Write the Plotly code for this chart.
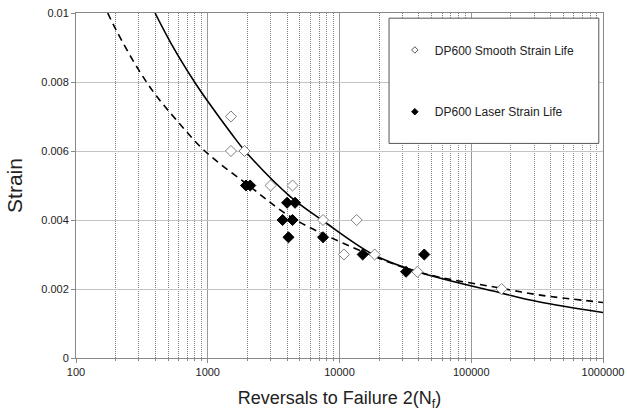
import plotly.graph_objects as go

# ---- data ----
smooth_N = [1500, 1500, 1900, 3000, 4400, 7500, 13500, 10800, 18500, 39000, 170000]
smooth_strain = [0.0070, 0.0060, 0.0060, 0.0050, 0.0050, 0.0040, 0.0040, 0.0030, 0.0030, 0.0025, 0.0020]

laser_N = [1950, 2100, 4000, 4600, 3700, 4400, 4100, 7500, 15000, 32000, 44000]
laser_strain = [0.0050, 0.0050, 0.0045, 0.0045, 0.0040, 0.0040, 0.0035, 0.0035, 0.0030, 0.0025, 0.0030]

solid_N = [398, 530, 794, 1000, 1514, 1919, 4227, 7361, 18030, 39000, 170000, 324000, 1000000]
solid_strain = [0.0100, 0.0091, 0.0080, 0.00744, 0.0065, 0.0060, 0.00468, 0.0040, 0.0030, 0.0025, 0.00188, 0.00163, 0.00132]

dashed_N = [174, 202, 299, 407, 578, 950, 2094, 4227, 10790, 39000, 170000, 324000, 1000000]
dashed_strain = [0.0100, 0.0095, 0.00835, 0.0076, 0.0069, 0.0060, 0.00497, 0.0041, 0.00332, 0.0025, 0.00202, 0.00183, 0.00161]

x_tickvals = [100, 1000, 10000, 100000, 1000000]
x_ticktext = ["100", "1000", "10000", "100000", "1000000"]
y_tickvals = [0, 0.002, 0.004, 0.006, 0.008, 0.01]
y_ticktext = ["0", "0.002", "0.004", "0.006", "0.008", "0.01"]

FONT = "Liberation Sans, Arial, sans-serif"

fig = go.Figure()

fig.add_trace(go.Scatter(x=solid_N, y=solid_strain, mode="lines",
                         line=dict(color="black", width=1.6, shape="spline", smoothing=1.0),
                         showlegend=False, hoverinfo="skip"))
fig.add_trace(go.Scatter(x=dashed_N, y=dashed_strain, mode="lines",
                         line=dict(color="black", width=1.6, dash="7px,5px", shape="spline", smoothing=1.0),
                         showlegend=False, hoverinfo="skip"))

fig.add_trace(go.Scatter(x=smooth_N, y=smooth_strain, mode="markers",
                         marker=dict(symbol="diamond", size=8.5, color="white",
                                     line=dict(color="#7f7f7f", width=1)),
                         showlegend=False))
fig.add_trace(go.Scatter(x=laser_N, y=laser_strain, mode="markers",
                         marker=dict(symbol="diamond", size=8.5, color="black",
                                     line=dict(color="black", width=1)),
                         showlegend=False))

# legend entries (small markers, as in the reference)
fig.add_trace(go.Scatter(x=[None], y=[None], mode="markers", name="DP600 Smooth Strain Life",
                         marker=dict(symbol="diamond", size=5, color="white",
                                     line=dict(color="#555555", width=1)),
                         legend="legend"))
fig.add_trace(go.Scatter(x=[None], y=[None], mode="markers", name="DP600 Laser Strain Life",
                         marker=dict(symbol="diamond", size=5, color="black",
                                     line=dict(color="black", width=1)),
                         legend="legend2"))

# legend frame
fig.add_shape(type="rect", xref="paper", yref="paper",
              x0=0.594, x1=0.992, y0=0.622, y1=0.985,
              fillcolor="white", line=dict(color="#555555", width=1), layer="above")

fig.update_layout(
    width=627, height=412,
    margin=dict(l=76, r=24, t=13, b=54),
    paper_bgcolor="white", plot_bgcolor="white",
    font=dict(family=FONT, color="#222222", size=11),
    legend=dict(x=0.605, y=0.8928, xanchor="left", yanchor="middle",
                bgcolor="rgba(0,0,0,0)", borderwidth=0,
                font=dict(family=FONT, size=12, color="#222222"),
                itemwidth=30),
    legend2=dict(x=0.605, y=0.7139, xanchor="left", yanchor="middle",
                 bgcolor="rgba(0,0,0,0)", borderwidth=0,
                 font=dict(family=FONT, size=12, color="#222222"),
                 itemwidth=30),
    showlegend=True,
)

fig.update_xaxes(
    type="log", range=[2, 6], automargin=False,
    tickvals=x_tickvals, ticktext=x_ticktext,
    showgrid=True, gridcolor="#9a9a9a", gridwidth=1,
    ticks="outside", ticklen=4, tickcolor="#888888",
    showline=True, linecolor="#888888", linewidth=1, mirror=True,
    minor=dict(dtick="D1", showgrid=True, gridcolor="#808080", griddash="1px,1px",
               gridwidth=1, ticks="outside", ticklen=2, tickcolor="#888888"),
    tickfont=dict(family=FONT, size=11, color="#222222"),
    title=dict(text="Reversals to Failure 2(N<sub>f</sub>)",
               font=dict(family=FONT, size=18, color="#222222"), standoff=14),
    zeroline=False,
)
fig.update_yaxes(
    range=[0, 0.01], automargin=False,
    tickvals=y_tickvals, ticktext=y_ticktext,
    showgrid=True, gridcolor="#c4c4c4", gridwidth=1,
    ticks="outside", ticklen=4, tickcolor="#888888",
    showline=True, linecolor="#888888", linewidth=1, mirror=True,
    tickfont=dict(family=FONT, size=11, color="#222222"),
    title=dict(text="Strain", font=dict(family=FONT, size=21, color="#222222"), standoff=12),
    zeroline=False,
)

fig.write_html("out.html")
